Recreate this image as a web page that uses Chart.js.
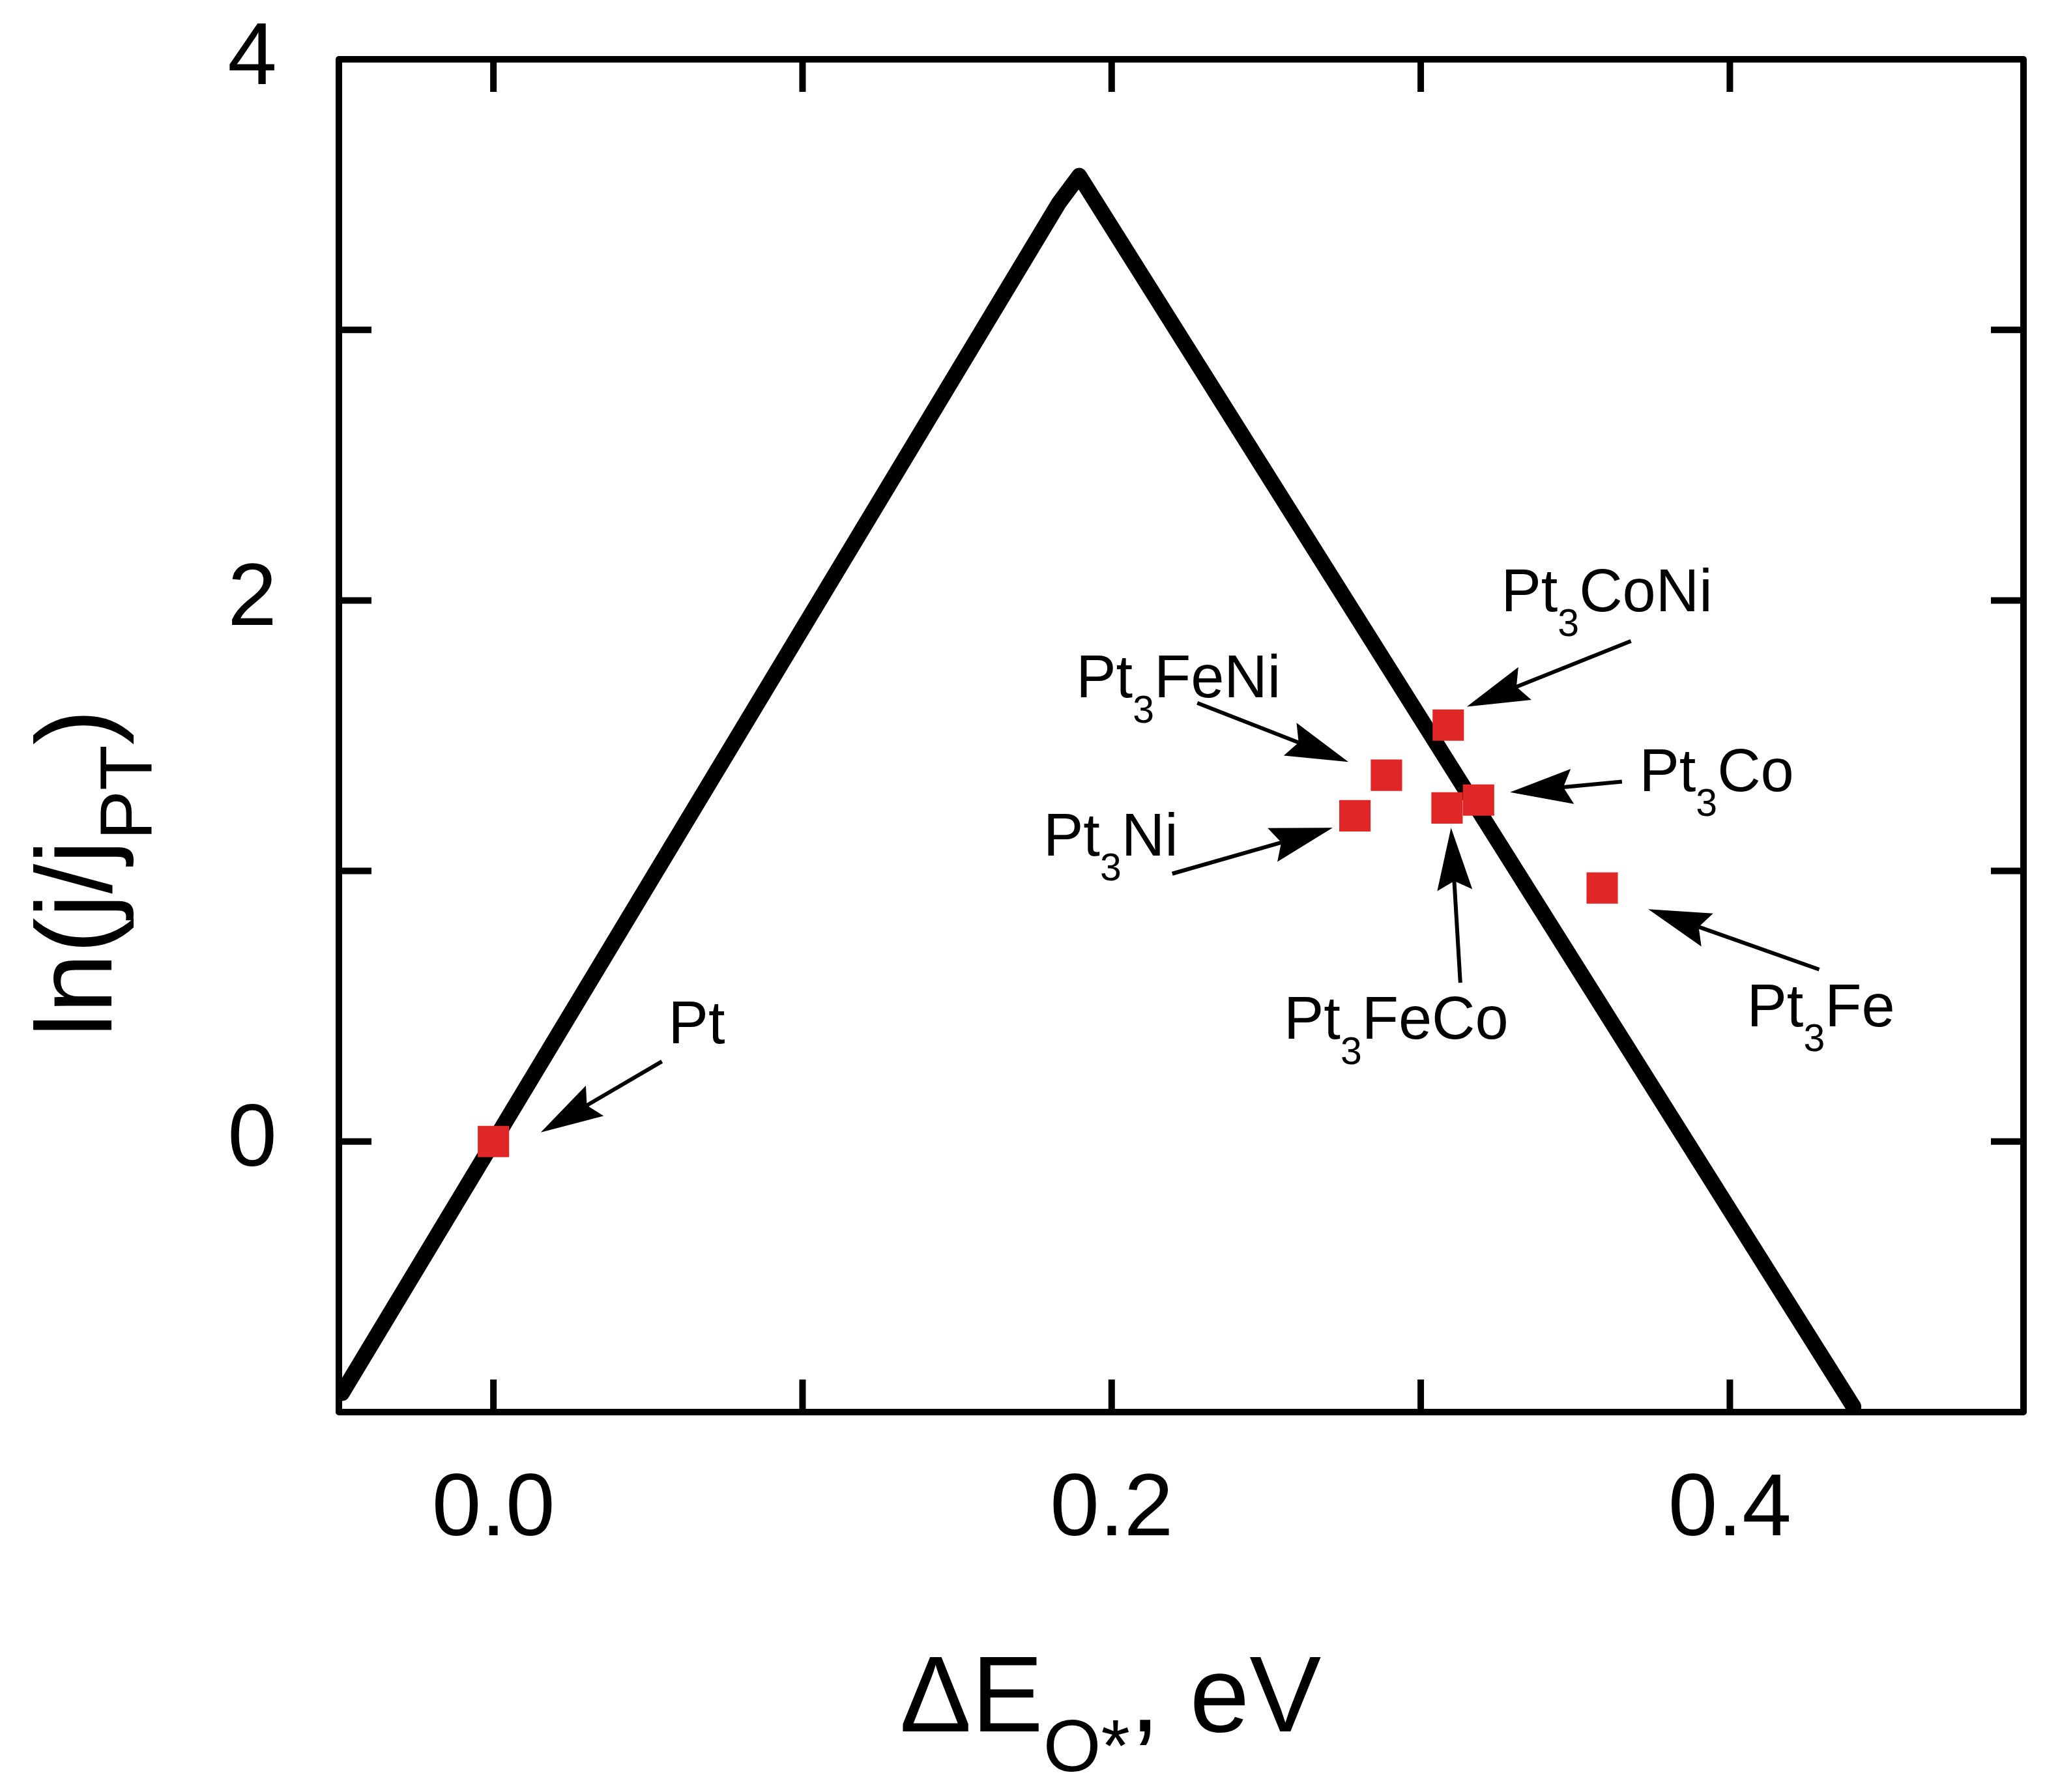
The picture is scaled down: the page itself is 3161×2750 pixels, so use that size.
<!DOCTYPE html>
<html>
<head>
<meta charset="utf-8">
<script src="https://cdn.jsdelivr.net/npm/chart.js@4.4.1/dist/chart.umd.min.js"></script>
<style>
  html, body { margin: 0; padding: 0; background: #fff; }
</style>
</head>
<body>
<canvas id="volcano" width="3161" height="2750"></canvas>
<script>

// volcano line (two branches meeting near the top)
var lineX = [-0.049, 0.183, 0.1895, 0.44];
var lineY = [-0.93, 3.47, 3.57, -0.98];

// catalysts
var alloyNames = [['Pt', '', ''], ['Pt', '3', 'Ni'], ['Pt', '3', 'FeNi'], ['Pt', '3', 'CoNi'], ['Pt', '3', 'FeCo'], ['Pt', '3', 'Co'], ['Pt', '3', 'Fe']];
var alloyX = [0, 0.2787, 0.2889, 0.3089, 0.3085, 0.3187, 0.3587];
var alloyY = [0, 1.204, 1.354, 1.539, 1.233, 1.262, 0.937];

// label anchors (left, baseline) and arrows, in data units
var labelX = [0.0566, 0.1779, 0.1885, 0.3260, 0.2557, 0.3707, 0.4055];
var labelY = [0.364, 1.058, 1.641, 1.961, 0.379, 1.296, 0.427];
var arrowFromX = [0.0545, 0.2196, 0.2277, 0.3680, 0.3128, 0.3651, 0.4289];
var arrowFromY = [0.296, 0.990, 1.621, 1.850, 0.587, 1.330, 0.636];
var arrowToX = [0.0153, 0.2715, 0.2766, 0.3149, 0.3098, 0.3289, 0.3736];
var arrowToY = [0.034, 1.160, 1.403, 1.607, 1.160, 1.291, 0.859];

var xTicks = [0, 0.1, 0.2, 0.3, 0.4];
var xTickLabels = [0, 0.2, 0.4];
var yTicks = [-1, 0, 1, 2, 3, 4];
var yTickLabels = [0, 2, 4];

var FONT = '"Liberation Sans", Arial, Helvetica, sans-serif';

function richWidth(ctx, parts, size, subScale) {
  var w = 0;
  ctx.font = size + 'px ' + FONT;
  w += ctx.measureText(parts[0]).width + ctx.measureText(parts[2]).width;
  ctx.font = Math.round(size * subScale) + 'px ' + FONT;
  w += ctx.measureText(parts[1]).width;
  return w;
}

// parts = [before, subscript, after]
function drawRich(ctx, parts, x, y, size, subScale, subDrop) {
  ctx.textBaseline = 'alphabetic';
  ctx.textAlign = 'left';
  ctx.font = size + 'px ' + FONT;
  ctx.fillText(parts[0], x, y);
  x += ctx.measureText(parts[0]).width;
  if (parts[1]) {
    ctx.font = Math.round(size * subScale) + 'px ' + FONT;
    ctx.fillText(parts[1], x, y + size * subDrop);
    x += ctx.measureText(parts[1]).width;
  }
  ctx.font = size + 'px ' + FONT;
  ctx.fillText(parts[2], x, y);
}

function drawArrow(ctx, x1, y1, x2, y2) {
  var ang = Math.atan2(y2 - y1, x2 - x1);
  var c = Math.cos(ang), s = Math.sin(ang);
  var headLen = 96, headW = 27, notch = 14;
  var bx = x2 - headLen * c, by = y2 - headLen * s;
  var nx = bx + notch * c, ny = by + notch * s;
  ctx.lineWidth = 6;
  ctx.beginPath();
  ctx.moveTo(x1, y1);
  ctx.lineTo(nx, ny);
  ctx.stroke();
  ctx.beginPath();
  ctx.moveTo(x2, y2);
  ctx.lineTo(bx + headW * s, by - headW * c);
  ctx.lineTo(nx, ny);
  ctx.lineTo(bx - headW * s, by + headW * c);
  ctx.closePath();
  ctx.fill();
}

var framePlugin = {
  id: 'frame',
  afterDraw: function (chart) {
    var ctx = chart.ctx, a = chart.chartArea;
    var xs = chart.scales.x, ys = chart.scales.y;
    ctx.save();
    ctx.strokeStyle = '#000';
    ctx.fillStyle = '#000';
    ctx.lineWidth = 10;
    ctx.lineJoin = 'round';
    ctx.strokeRect(a.left, a.top, a.right - a.left, a.bottom - a.top);

    // inward ticks on all four sides
    var tl = 50;
    ctx.beginPath();
    xTicks.forEach(function (v) {
      var px = xs.getPixelForValue(v);
      ctx.moveTo(px, a.bottom); ctx.lineTo(px, a.bottom - tl);
      ctx.moveTo(px, a.top); ctx.lineTo(px, a.top + tl);
    });
    yTicks.forEach(function (v) {
      var py = ys.getPixelForValue(v);
      ctx.moveTo(a.left, py); ctx.lineTo(a.left + tl, py);
      ctx.moveTo(a.right, py); ctx.lineTo(a.right - tl, py);
    });
    ctx.stroke();

    // labels and arrows
    for (var i = 0; i < alloyNames.length; i++) {
      drawRich(ctx, alloyNames[i], xs.getPixelForValue(labelX[i]), ys.getPixelForValue(labelY[i]), 92, 0.64, 0.42);
      drawArrow(ctx,
        xs.getPixelForValue(arrowFromX[i]), ys.getPixelForValue(arrowFromY[i]),
        xs.getPixelForValue(arrowToX[i]), ys.getPixelForValue(arrowToY[i]));
    }

    // axis titles
    var xt = ['\u0394E', 'O*', ', eV'];
    var w = richWidth(ctx, xt, 165, 0.69);
    drawRich(ctx, xt, 1704 - w / 2, 2657, 165, 0.69, 0.37);

    var yt = ['ln(j/j', 'PT', ')'];
    w = richWidth(ctx, yt, 165, 0.69);
    ctx.translate(171, 1340);
    ctx.rotate(-Math.PI / 2);
    drawRich(ctx, yt, -w / 2, 0, 165, 0.69, 0.37);
    ctx.restore();
  }
};

var volcano = new Chart(document.getElementById('volcano'), {
  type: 'scatter',
  data: {
    datasets: [{
      label: 'catalysts',
      data: alloyX.map(function (x, i) { return { x: x, y: alloyY[i] }; }),
      pointStyle: 'rect',
      pointRadius: 34,
      pointHoverRadius: 34,
      backgroundColor: '#e02626',
      borderWidth: 0,
      order: 0
    }, {
      label: 'volcano',
      type: 'line',
      data: lineX.map(function (x, i) { return { x: x, y: lineY[i] }; }),
      borderColor: '#000',
      borderWidth: 24,
      borderJoinStyle: 'round',
      borderCapStyle: 'round',
      pointRadius: 0,
      fill: false,
      tension: 0,
      order: 1
    }]
  },
  options: {
    responsive: false,
    animation: false,
    devicePixelRatio: 1,
    layout: { padding: { top: 91, right: 56, left: 0, bottom: 0 } },
    plugins: { legend: { display: false }, tooltip: { enabled: false } },
    scales: {
      x: {
        type: 'linear',
        min: -0.05,
        max: 0.495,
        afterBuildTicks: function (s) { s.ticks = xTicks.map(function (v) { return { value: v }; }); },
        afterFit: function (s) { s.height = 583; s.paddingLeft = 0; s.paddingRight = 0; },
        grid: { display: false },
        border: { display: false },
        ticks: {
          autoSkip: false,
          maxRotation: 0,
          padding: 62,
          color: '#000',
          font: { size: 136, family: FONT },
          callback: function (v) { return xTickLabels.indexOf(v) >= 0 ? v.toFixed(1) : ''; }
        }
      },
      y: {
        type: 'linear',
        min: -1,
        max: 4,
        afterBuildTicks: function (s) { s.ticks = yTicks.map(function (v) { return { value: v }; }); },
        afterFit: function (s) { s.width = 520; s.paddingTop = 0; s.paddingBottom = 0; },
        grid: { display: false },
        border: { display: false },
        ticks: {
          autoSkip: false,
          padding: 87,
          color: '#000',
          font: { size: 136, family: FONT },
          callback: function (v) { return yTickLabels.indexOf(v) >= 0 ? String(v) : ''; }
        }
      }
    }
  },
  plugins: [framePlugin]
});
</script>
</body>
</html>
